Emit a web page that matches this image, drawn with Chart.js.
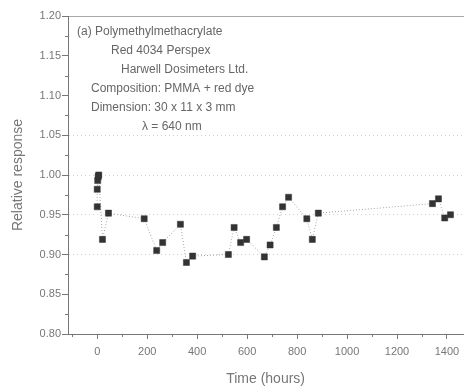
<!DOCTYPE html>
<html>
<head>
<meta charset="utf-8">
<script src="https://cdn.jsdelivr.net/npm/chart.js@4"></script>
<style>
  html, body { margin: 0; padding: 0; background: #fff; }
  #wrap { width: 468px; height: 389px; position: relative; }
</style>
</head>
<body>
<div id="wrap"><canvas id="chart"></canvas></div>
<script>
// ── Data ─────────────────────────────────────────────────────
const hours = [0, 0, 2, 4, 6, 21, 45, 188, 238, 262, 333, 357, 382, 525, 548, 574, 598, 669, 692, 717, 742, 766, 839, 861, 885, 1342, 1366, 1391, 1414];
const response = [0.960, 0.982, 0.993, 0.998, 1.000, 0.919, 0.952, 0.945, 0.905, 0.915, 0.938, 0.890, 0.898, 0.900, 0.934, 0.915, 0.919, 0.897, 0.912, 0.934, 0.960, 0.972, 0.945, 0.919, 0.952, 0.964, 0.970, 0.946, 0.950];
const xTicks = [0, 200, 400, 600, 800, 1000, 1200, 1400];
const yTicks = [0.8, 0.85, 0.9, 0.95, 1.0, 1.05, 1.1, 1.15, 1.2];
const guideLines = [0.90, 0.95, 1.00, 1.05];
const notes = [
  { text: '(a) Polymethylmethacrylate', x: 77, y: 32 },
  { text: 'Red 4034 Perspex', x: 111, y: 51 },
  { text: 'Harwell Dosimeters Ltd.', x: 121, y: 70 },
  { text: 'Composition: PMMA + red dye', x: 91, y: 89 },
  { text: 'Dimension: 30 x 11 x 3 mm', x: 91, y: 108 },
  { text: '\u03bb = 640 nm', x: 142, y: 127 }
];

const FONT = '"Liberation Sans", Arial, sans-serif';
const GREY = '#777';

// ── Minor ticks + text block ─────────────────────────────────
const extras = {
  id: 'extras',
  afterDraw(chart) {
    const { ctx, scales: { x, y } } = chart;
    ctx.save();
    ctx.strokeStyle = GREY;
    ctx.lineWidth = 1;
    ctx.beginPath();
    for (let v = -100; v <= 1400; v += 200) {
      const px = Math.round(x.getPixelForValue(v)) + 0.5;
      ctx.moveTo(px, y.bottom);
      ctx.lineTo(px, y.bottom + 3);
    }
    for (let v = 0.825; v < 1.2; v += 0.05) {
      const py = Math.round(y.getPixelForValue(v)) + 0.5;
      ctx.moveTo(x.left, py);
      ctx.lineTo(x.left - 3, py);
    }
    ctx.stroke();

    ctx.fillStyle = '#666';
    ctx.font = '12px ' + FONT;
    ctx.textBaseline = 'middle';
    notes.forEach(n => ctx.fillText(n.text, n.x, n.y));
    ctx.restore();
  }
};

new Chart(document.getElementById('chart'), {
  type: 'line',
  data: {
    datasets: [{
      data: hours.map((h, i) => ({ x: h, y: response[i] })),
      borderColor: '#a5a5a5',
      borderWidth: 1,
      borderDash: [1, 2],
      pointStyle: 'rect',
      pointRadius: 4.3,
      pointBackgroundColor: '#333',
      pointBorderColor: '#333',
      pointBorderWidth: 0.5,
      tension: 0
    }]
  },
  options: {
    responsive: true,
    maintainAspectRatio: false,
    animation: false,
    layout: { padding: { top: 16, right: 0, left: 0, bottom: 0 } },
    plugins: { legend: { display: false }, tooltip: { enabled: false } },
    scales: {
      x: {
        type: 'linear',
        min: -117,
        max: 1465,
        afterBuildTicks: s => { s.ticks = xTicks.map(v => ({ value: v })); },
        afterFit: s => { s.height = 55; },
        ticks: { color: GREY, font: { family: FONT, size: 11 }, padding: 6, maxRotation: 0, callback: v => String(v) },
        grid: { drawOnChartArea: false, drawTicks: true, tickLength: 5, tickColor: GREY },
        border: { color: GREY, width: 1 },
        title: { display: true, text: 'Time (hours)', color: GREY, font: { family: FONT, size: 14 }, padding: { top: 0, bottom: 1 } }
      },
      x2: {
        type: 'linear',
        position: 'top',
        min: -117,
        max: 1465,
        afterFit: s => { s.height = 0; },
        ticks: { display: false },
        grid: { display: false, drawTicks: false },
        border: { color: '#aaa', width: 1 }
      },
      y: {
        min: 0.8,
        max: 1.2,
        afterBuildTicks: s => { s.ticks = yTicks.map(v => ({ value: v })); },
        afterFit: s => { s.width = 68; },
        ticks: { color: GREY, font: { family: FONT, size: 11 }, padding: 1, callback: v => v.toFixed(2) },
        grid: {
          color: c => guideLines.some(g => Math.abs(g - c.tick.value) < 1e-6) ? '#cfcfcf' : 'transparent',
          tickLength: 6,
          tickColor: GREY
        },
        border: { color: GREY, width: 1, dash: [1, 3] },
        title: { display: true, text: 'Relative response', color: GREY, font: { family: FONT, size: 14 }, padding: { top: 10, bottom: 0 } }
      }
    }
  },
  plugins: [extras]
});
</script>
</body>
</html>
